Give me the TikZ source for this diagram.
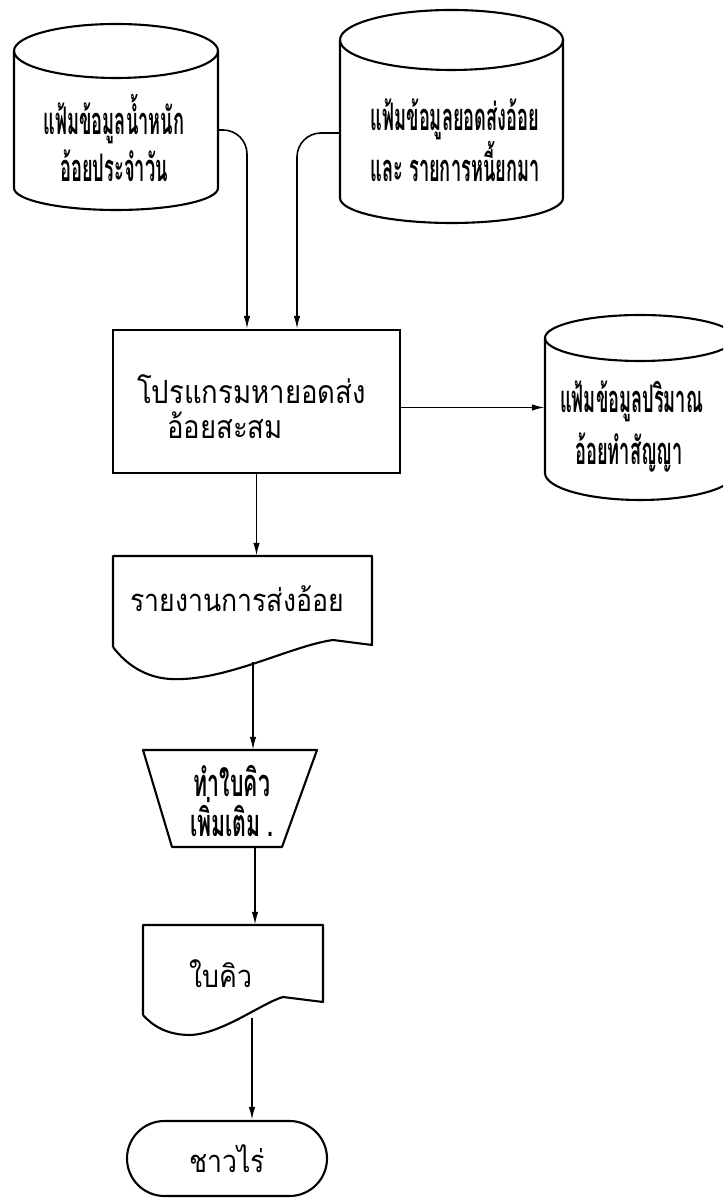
\documentclass[tikz,border=0pt]{standalone}
\usepackage{fontspec}
\usetikzlibrary{arrows.meta,shapes.misc}
\newfontfamily\thaic[Script=Thai,FakeStretch=0.48]{Loma}
\newfontfamily\thaict[Script=Thai,FakeStretch=0.56]{Loma}
\newfontfamily\thail[Script=Thai,FakeStretch=0.86]{Loma}
\begin{document}
\begin{tikzpicture}[x=1pt,y=1pt,
  shapeline/.style={line width=2.1pt, line join=round},
  arr/.style={line width=1.6pt, -{Latex[length=13pt,width=6.5pt]}},
  bnd/.style 2 args={minimum width=#1pt, minimum height=#2pt, inner sep=0pt, draw=none},
  condtxt/.style={font={\thaic\bfseries\fontsize{38}{#1}\selectfont}, inner sep=0pt},
  looptxt/.style={font={\thail\fontsize{31}{35}\selectfont}, inner sep=0pt}]
\useasboundingbox (0,0) rectangle (723,1199);
\clip (0,0) rectangle (723,1199);
\fill[white] (0,0) rectangle (723,1199);
% invisible frames of the symbols
\node[bnd={204}{186}] (c1) at (116,1082) {};
\node[bnd={223}{213}] (c2) at (451.5,1082.5) {};
\node[draw, line width=2.1pt, minimum width=287pt, minimum height=143pt, inner sep=0pt] (p) at (256.5,797.5) {};
\node[bnd={190}{185}] (c3) at (640,791.5) {};
\node[bnd={259}{122}] (d1) at (242.5,582) {};
\node[bnd={174}{97}] (t) at (230,400.5) {};
\node[bnd={180}{110}] (d2) at (233,219) {};
\node[draw, line width=2.1pt, rounded rectangle, minimum width=200pt, minimum height=75pt, inner sep=0pt, font={\thail\fontsize{31}{35}\selectfont}] (term) at (227,40.5) {ชาวไร่};
% cylinder 1
\draw[shapeline] (14,1148) -- (14,1011) arc[start angle=180,end angle=360,x radius=102pt,y radius=22pt] -- (218,1148);
\draw[shapeline] (116,1148) ellipse [x radius=102pt, y radius=27pt];
% cylinder 2
\draw[shapeline] (340,1159) -- (340,1001) arc[start angle=180,end angle=360,x radius=111.5pt,y radius=25pt] -- (563,1159);
\draw[shapeline] (451.5,1159) ellipse [x radius=111.5pt, y radius=30pt];
% cylinder 3
\draw[shapeline] (545,861) -- (545,726) arc[start angle=180,end angle=360,x radius=95pt,y radius=27pt] -- (735,861);
\draw[shapeline] (640,861) ellipse [x radius=95pt, y radius=23pt];
% document 1
\draw[shapeline] (113,552) -- (113,643) -- (372,643) -- (372,554) -- (333,559)
  .. controls (290,553) and (225,517) .. (170,520)
  .. controls (140,522) and (122,540) .. (113,552);
% trapezoid
\draw[shapeline] (143,449) -- (317,449) -- (282,352) -- (172,352) -- cycle;
% document 2
\draw[shapeline] (143,184) -- (143,274) -- (323,274) -- (323,197) -- (283,202)
  .. controls (262,196) and (222,165) .. (190,164)
  .. controls (166,164) and (152,174) .. (143,184);
% texts
\node[condtxt=47, align=center] (c1t) at (114,1061) {แฟ้มข้อมูลน้ำหนัก\\อ้อยประจำวัน};
\node[condtxt=44, align=center] (c2t) at (455,1059) {แฟ้มข้อมูลยอดส่งอ้อย\\และ รายการหนี้ยกมา};
\node[looptxt, font={\thail\fontsize{32}{35}\selectfont}, align=left, anchor=west] (pt) at (137,792) {โปรแกรมหายอดส่ง\\\hspace*{30pt}อ้อยสะสม};
\node[condtxt=52, align=left, anchor=west] (c3t) at (560,773) {แฟ้มข้อมูลปริมาณ\\\hspace*{15pt}อ้อยทำสัญญา};
\node[looptxt] (d1t) at (237,600) {รายงานการส่งอ้อย};
\node[font={\thaict\bfseries\fontsize{38}{40}\selectfont}, inner sep=0pt, align=center] (tt) at (232,398) {ทำใบคิว\\เพิ่มเติม .};
\node[looptxt] (d2t) at (221,225) {ใบคิว};
% connectors
\coordinate (d1b) at (253,537);
\coordinate (d2b) at (252,181);
\draw[arr, rounded corners=24pt] ([yshift=-13pt]c1.east) -| ([xshift=-9.5pt]p.north);
\draw[arr, rounded corners=24pt] ([yshift=-16.5pt]c2.west) -| ([xshift=40.5pt]p.north);
\draw[arr] (c3.west -| p.east) -- (c3.west);
\draw[arr] (p.south) -- (p.south |- d1.north);
\draw[arr] (d1b) -- (d1b |- t.north);
\draw[arr] ([xshift=25pt]t.south) -- ([xshift=25pt]t.south |- d2.north);
\draw[arr] (d2b) -- (d2b |- term.north);
\end{tikzpicture}
\end{document}
